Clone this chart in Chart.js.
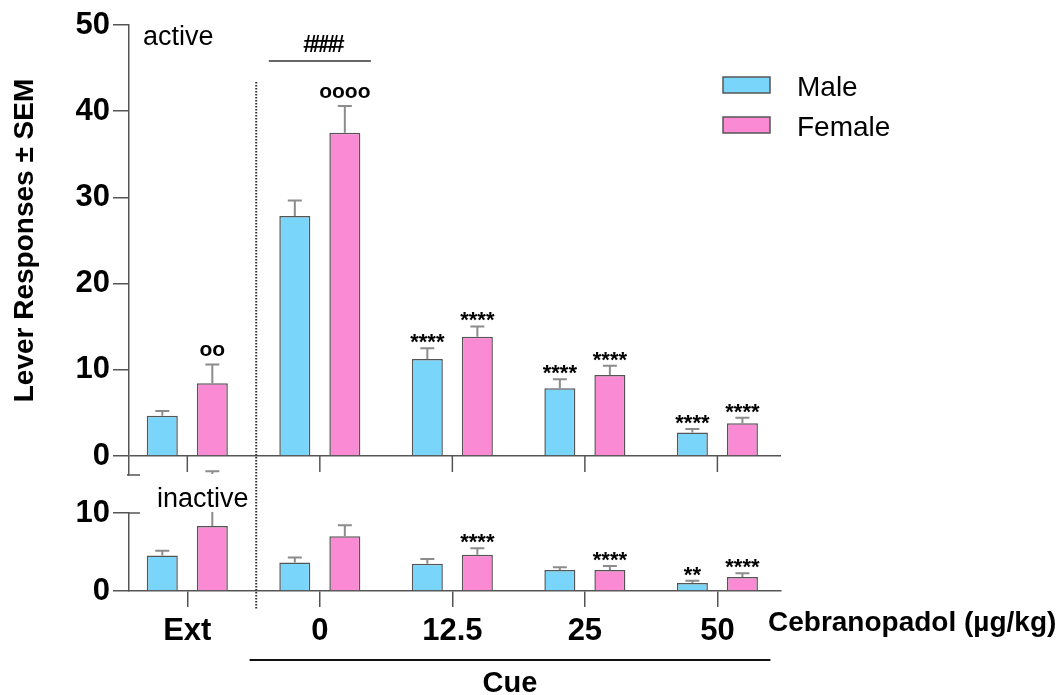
<!DOCTYPE html>
<html>
<head>
<meta charset="utf-8">
<script src="https://cdn.jsdelivr.net/npm/chart.js@4.4.1/dist/chart.umd.min.js"></script>
<style>
  html, body { margin: 0; padding: 0; background: #fff; }
  .wrap { position: relative; width: 1064px; height: 695px; }
  canvas { position: absolute; left: 0; top: 0; }
</style>
</head>
<body>
<div class="wrap">
  <canvas id="inactiveChart" width="1064" height="695"></canvas>
  <canvas id="activeChart" width="1064" height="695"></canvas>
</div>
<script>
// Groups along the x axis (Ext = extinction, then cue tests by dose)
const categories = ['Ext', '0', '12.5', '25', '50'];

// Active lever: mean and SEM
const activeMale = [4.67, 27.84, 11.25, 7.85, 2.74];
const activeMaleSem = [0.55, 1.8, 1.24, 1.05, 0.4];
const activeFemale = [8.43, 37.5, 13.84, 9.4, 3.79];
const activeFemaleSem = [2.2, 3.1, 1.2, 1.08, 0.66];

// Inactive lever: mean and SEM
const inactiveMale = [4.56, 3.66, 3.49, 2.68, 1.02];
const inactiveMaleSem = [0.6, 0.64, 0.6, 0.35, 0.3];
const inactiveFemale = [8.34, 7.02, 4.64, 2.68, 1.79];
const inactiveFemaleSem = [7.0, 1.41, 0.85, 0.51, 0.47];

// Significance marks above each bar
const activeMaleMarks = ['', '', '****', '****', '****'];
const activeFemaleMarks = ['oo', 'oooo', '****', '****', '****'];
const inactiveMaleMarks = ['', '', '', '', '**'];
const inactiveFemaleMarks = ['', '', '****', '****', '****'];

// Y tick values
const activeTicks = [0, 10, 20, 30, 40, 50];
const inactiveTicks = [0, 10];

const FONT = "'Liberation Sans', Arial, Helvetica, sans-serif";
const AXIS = 'rgb(85,85,85)';
const ERR = 'rgb(140,140,140)';
const MALE = 'rgb(121,213,249)';
const FEMALE = 'rgb(249,138,211)';
const BORDER = 'rgb(85,85,85)';

function barSet(label, values, sem, marks, color, yAxisID) {
  return {
    label: label,
    data: values.map(function (v, i) { return { x: i, y: v }; }),
    sem: sem,
    marks: marks,
    yAxisID: yAxisID,
    backgroundColor: color,
    borderColor: BORDER,
    borderWidth: 1.5,
    borderSkipped: 'bottom',
    categoryPercentage: 0.755,
    barPercentage: 0.62
  };
}

function categoryTicks(s) {
  s.ticks = categories.map(function (c, i) { return { value: i }; });
}

// Error bars (upper half) plus significance text above the cap
function drawErrorBars(chart) {
  const ctx = chart.ctx;
  chart.data.datasets.forEach(function (ds, di) {
    const meta = chart.getDatasetMeta(di);
    const yScale = chart.scales[meta.yAxisID];
    meta.data.forEach(function (bar, i) {
      const top = yScale.getPixelForValue(ds.data[i].y + ds.sem[i]);
      ctx.save();
      ctx.strokeStyle = ERR;
      ctx.lineWidth = 2;
      ctx.beginPath();
      ctx.moveTo(bar.x, bar.y);
      ctx.lineTo(bar.x, top);
      ctx.moveTo(bar.x - 7, top);
      ctx.lineTo(bar.x + 7, top);
      ctx.stroke();
      const m = ds.marks[i];
      if (m) {
        ctx.fillStyle = 'black';
        ctx.textAlign = 'center';
        ctx.textBaseline = 'middle';
        if (m.charAt(0) === 'o') {
          ctx.font = 'bold 21px ' + FONT;
          ctx.fillText(m, bar.x, top - 14);
        } else {
          ctx.font = 'bold 22px ' + FONT;
          ctx.fillText(m, bar.x, top - 5);
        }
      }
      ctx.restore();
    });
  });
}

function line(ctx, x1, y1, x2, y2, color, w) {
  ctx.save();
  ctx.strokeStyle = color;
  ctx.lineWidth = w;
  ctx.beginPath();
  ctx.moveTo(x1, y1);
  ctx.lineTo(x2, y2);
  ctx.stroke();
  ctx.restore();
}

function text(ctx, str, x, y, font, align) {
  ctx.save();
  ctx.fillStyle = 'black';
  ctx.font = font;
  ctx.textAlign = align || 'left';
  ctx.textBaseline = 'alphabetic';
  ctx.fillText(str, x, y);
  ctx.restore();
}

const legendItems = [
  { label: 'Male', color: MALE },
  { label: 'Female', color: FEMALE }
];

const activeExtras = {
  id: 'activeExtras',
  afterDatasetsDraw: function (chart) {
    const ctx = chart.ctx;
    const x = chart.scales.x;
    const y = chart.scales.yA;
    const area = chart.chartArea;
    const y0 = y.getPixelForValue(0);
    drawErrorBars(chart);
    // category tick marks below the baseline
    categories.forEach(function (c, i) {
      const px = x.getPixelForValue(i);
      line(ctx, px, y0, px, y0 + 16, AXIS, 1.5);
    });
    // axis break cap
    line(ctx, area.left - 2, area.bottom, area.left + 11, area.bottom, AXIS, 1.5);
    // y axis title, centred on the 0-50 range
    ctx.save();
    ctx.translate(25, (y.getPixelForValue(0) + y.getPixelForValue(50)) / 2);
    ctx.rotate(-Math.PI / 2);
    ctx.fillStyle = 'black';
    ctx.font = 'bold 28px ' + FONT;
    ctx.textAlign = 'center';
    ctx.textBaseline = 'middle';
    ctx.fillText('Lever Responses \u00b1 SEM', 0, 0);
    ctx.restore();
    // panel label
    text(ctx, 'active', area.left + 14, 45, '27px ' + FONT);
    // dotted separator between Ext and cue tests
    ctx.save();
    ctx.strokeStyle = 'rgb(51,51,51)';
    ctx.lineWidth = 2;
    ctx.setLineDash([1.5, 1.5]);
    const sx = x.getPixelForValue(0.52);
    ctx.beginPath();
    ctx.moveTo(sx, 82);
    ctx.lineTo(sx, 610);
    ctx.stroke();
    ctx.restore();
    // comparison bracket over the 0 group
    const bx1 = x.getPixelForValue(1 - 0.385);
    const bx2 = x.getPixelForValue(1 + 0.385);
    line(ctx, bx1, 61, bx2, 61, 'rgb(51,51,51)', 1.5);
    ctx.save();
    ctx.letterSpacing = '-4px';
    text(ctx, '\u0023\u0023\u0023\u0023', (bx1 + bx2) / 2 + 2, 52, 'bold 24px ' + FONT, 'center');
    ctx.restore();
    // legend
    legendItems.forEach(function (item, k) {
      const ty = 77 + k * 40;
      ctx.save();
      ctx.fillStyle = item.color;
      ctx.fillRect(723, ty, 47, 16);
      ctx.strokeStyle = BORDER;
      ctx.lineWidth = 1.5;
      ctx.strokeRect(723, ty, 47, 16);
      ctx.restore();
      text(ctx, item.label, 797, ty + 19, '28px ' + FONT);
    });
  }
};

const inactiveExtras = {
  id: 'inactiveExtras',
  afterDatasetsDraw: function (chart) {
    const ctx = chart.ctx;
    const x = chart.scales.x;
    const area = chart.chartArea;
    drawErrorBars(chart);
    // axis break cap at the top of the lower panel
    line(ctx, area.left, area.top, area.left + 11, area.top, AXIS, 1.5);
    // panel label on a white patch
    ctx.save();
    ctx.font = '27px ' + FONT;
    const w = ctx.measureText('inactive').width;
    ctx.fillStyle = 'white';
    ctx.fillRect(area.left + 27, 474, w + 2, 38);
    ctx.restore();
    text(ctx, 'inactive', area.left + 28, 507, '27px ' + FONT);
    // dose axis title
    text(ctx, 'Cebranopadol (\u00b5g/kg)', 768, 631, 'bold 28px ' + FONT);
    // Cue bracket
    const cx1 = x.getPixelForValue(0.47);
    const cx2 = x.getPixelForValue(4.4);
    line(ctx, cx1, 660, cx2, 660, 'rgb(17,17,17)', 2);
    text(ctx, 'Cue', (cx1 + cx2) / 2, 692, 'bold 29px ' + FONT, 'center');
  }
};

function baseOptions() {
  return {
    responsive: false,
    animation: false,
    devicePixelRatio: 1,
    events: [],
    plugins: { legend: { display: false }, tooltip: { enabled: false } }
  };
}

const activeOptions = baseOptions();
activeOptions.layout = { padding: { left: 0, top: 25, right: 283, bottom: 220 } };
activeOptions.scales = {
  x: {
    type: 'linear', min: -0.44, max: 4.48, offset: false, display: false,
    grid: { offset: false },
    afterBuildTicks: categoryTicks
  },
  yA: {
    position: 'left',
    min: -2.2,
    max: 50,
    afterBuildTicks: function (s) { s.ticks = activeTicks.map(function (v) { return { value: v }; }); },
    afterFit: function (s) { s.width = 129; },
    grid: {
      drawOnChartArea: true,
      color: function (c) { return c.tick ? (c.tick.value === 0 ? AXIS : 'rgba(0,0,0,0)') : 'rgba(0,0,0,0)'; },
      tickColor: AXIS,
      tickLength: 16,
      lineWidth: 1.5
    },
    border: { display: true, color: AXIS, width: 1.5 },
    ticks: { font: { family: FONT, size: 31, weight: 'bold' }, color: 'black', padding: 3 }
  }
};

new Chart(document.getElementById('activeChart'), {
  type: 'bar',
  data: {
    datasets: [
      barSet('Male', activeMale, activeMaleSem, activeMaleMarks, MALE, 'yA'),
      barSet('Female', activeFemale, activeFemaleSem, activeFemaleMarks, FEMALE, 'yA')
    ]
  },
  options: activeOptions,
  plugins: [activeExtras]
});

const inactiveOptions = baseOptions();
inactiveOptions.layout = { padding: { left: 0, top: 513, right: 283, bottom: 0 } };
inactiveOptions.scales = {
  x: {
    type: 'linear',
    min: -0.44,
    max: 4.48,
    offset: false,
    position: 'bottom',
    afterBuildTicks: categoryTicks,
    afterFit: function (s) { s.height = 104; },
    grid: { offset: false, drawOnChartArea: false, tickColor: AXIS, tickLength: 16, lineWidth: 1.5 },
    border: { display: true, color: AXIS, width: 1.5 },
    ticks: {
      font: { family: FONT, size: 31, weight: 'bold' },
      color: 'black',
      padding: 6,
      autoSkip: false,
      maxRotation: 0,
      callback: function (v) { return categories[v] === undefined ? '' : categories[v]; }
    }
  },
  yI: {
    position: 'left',
    min: 0,
    max: 10,
    afterBuildTicks: function (s) { s.ticks = inactiveTicks.map(function (v) { return { value: v }; }); },
    afterFit: function (s) { s.width = 129; },
    grid: { drawOnChartArea: false, tickColor: AXIS, tickLength: 16, lineWidth: 1.5 },
    border: { display: true, color: AXIS, width: 1.5 },
    ticks: { font: { family: FONT, size: 31, weight: 'bold' }, color: 'black', padding: 3 }
  }
};

new Chart(document.getElementById('inactiveChart'), {
  type: 'bar',
  data: {
    datasets: [
      barSet('Male', inactiveMale, inactiveMaleSem, inactiveMaleMarks, MALE, 'yI'),
      barSet('Female', inactiveFemale, inactiveFemaleSem, inactiveFemaleMarks, FEMALE, 'yI')
    ]
  },
  options: inactiveOptions,
  plugins: [inactiveExtras]
});
</script>
</body>
</html>
